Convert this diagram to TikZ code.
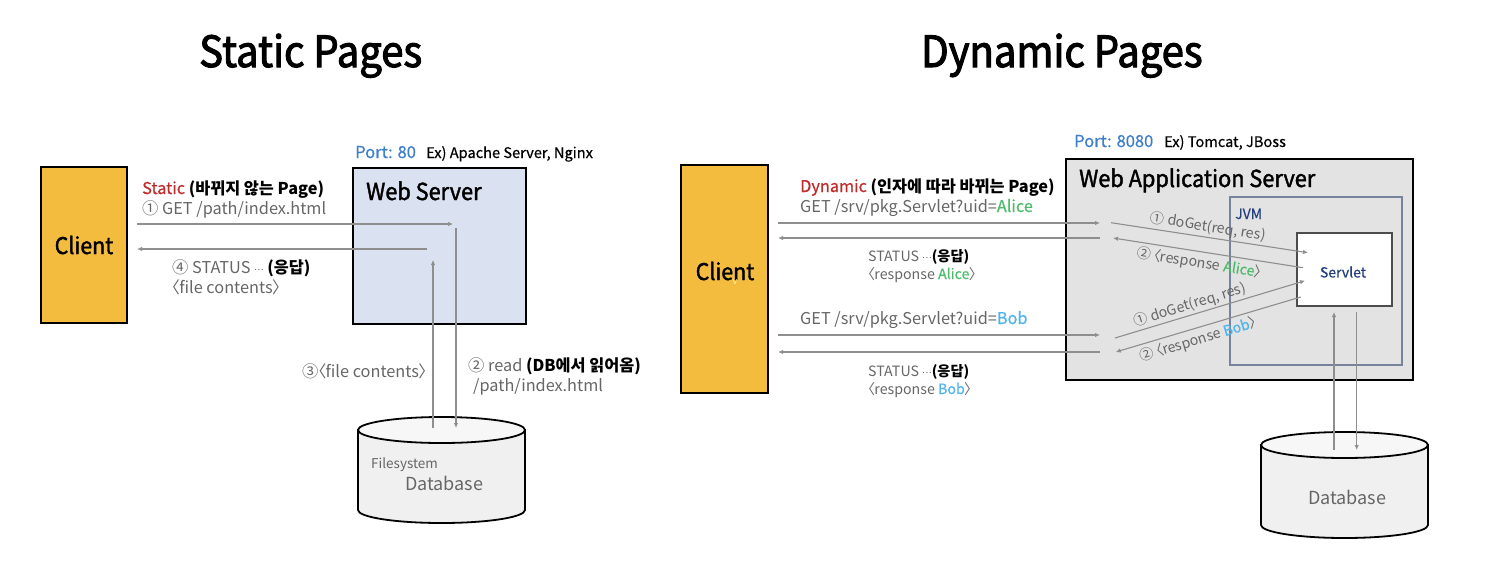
\documentclass[tikz,border=0pt]{standalone}
\usepackage{fontspec}
\usepackage{xcolor}
\setmainfont{Noto Sans CJK KR}
\newfontfamily\medfont[FakeBold=0.6]{Noto Sans CJK KR}
\newfontfamily\semifont[FakeBold=2.4,FakeStretch=0.93]{Noto Sans CJK KR}
\newfontfamily\headfont[FakeBold=1.6,FakeStretch=0.93]{Noto Sans CJK KR}
\usetikzlibrary{arrows.meta}
\newcommand{\fsz}[1]{\fontsize{#1}{#1}\selectfont}
\newcommand{\lang}{\kern-.52em〈\kern-.04em}
\newcommand{\rang}{\kern-.04em〉\kern-.5em}
\newcommand{\cdts}{\raisebox{.3ex}{\fsz{9}⋯}}
\definecolor{clientyellow}{HTML}{F4BC3F}
\definecolor{webblue}{HTML}{DAE1F0}
\definecolor{wasgray}{HTML}{E3E3E3}
\definecolor{txtgray}{HTML}{666666}
\definecolor{arrgray}{HTML}{8E8E8E}
\definecolor{portblue}{HTML}{3F7FC9}
\definecolor{jvmblue}{HTML}{25407F}
\definecolor{jvmline}{HTML}{76839A}
\definecolor{staticred}{HTML}{BE2B2B}
\definecolor{alicegreen}{HTML}{4DBB6A}
\definecolor{bobblue}{HTML}{4FB3EE}
\tikzset{
  box/.style={draw=black,line width=1.8pt,anchor=north west,inner sep=0pt,outer sep=0pt},
  title/.style={anchor=base west,inner sep=0pt,text=black,font=\fsz{43}\semifont},
  head/.style={anchor=base west,inner sep=0pt,text=black,font=\fsz{23.4}\headfont},
  lab/.style={anchor=base west,inner sep=0pt,text=txtgray,font=\fsz{16.3}},
  hint/.style={anchor=base west,inner sep=0pt,text=black,font=\fsz{14.6}\medfont},
  port/.style={anchor=base west,inner sep=0pt,text=portblue,font=\fsz{16.5}\medfont},
  conn/.style={draw=arrgray,line width=1.1pt,-{Latex[length=5pt,width=4.5pt]}},
  dbody/.style={draw=black,line width=1.8pt,fill=black!6},
  dcap/.style={draw=black,line width=1.8pt,fill=black!3},
}
\newcommand{\strongt}[1]{{\color{black}\bfseries #1}}
\newcommand{\dbcyl}[2]{%
  \begin{scope}[shift={(#1,#2)}]
  \draw[dbody] (-83.5,13) -- (-83.5,93) arc[start angle=180,end angle=360,x radius=83.5pt,y radius=13pt] -- (83.5,13) -- cycle;
  \draw[dcap] (0,13) ellipse[x radius=83.5pt,y radius=13pt];
  \end{scope}}
\begin{document}
\begin{tikzpicture}[x=1pt,y=-1pt]
\useasboundingbox (0,0) rectangle (1504,568);
\node[title] (stitle) at (199,67) {Static Pages};
\node[title] (dtitle) at (921,67) {Dynamic Pages};

\node[box,fill=clientyellow,minimum width=86pt,minimum height=156pt] (sclient) at (41,167) {};
\node[anchor=center,font=\fsz{23}\headfont] (sclientt) at (84,245) {Client};
\node[box,fill=webblue,minimum width=173pt,minimum height=156pt] (web) at (353,168) {};
\node[head] (webt) at (366,200) {Web Server};
\node[port] (sport) at (355,158) {Port: 80};
\node[hint] (shint) at (426,158) {Ex) Apache Server, Nginx};
\dbcyl{441.5}{417}
\node[lab,font=\fsz{13.5}] (sfs) at (371,468) {Filesystem};
\node[lab,font=\fsz{18}] (sdbt) at (405,490) {Database};

\node[lab] (s1) at (142,194) {{\color{staticred}\medfont Static} \strongt{(바뀌지 않는 Page)}};
\node[lab] (s2) at (142,214) {① GET /path/index.html};
\node[lab] (s3) at (172,273) {④ STATUS \cdts{} \strongt{(응답)}};
\node[lab] (s4) at (172,293) {\lang file contents\rang};
\node[lab] (s5) at (302,377) {③\lang file contents\rang};
\node[lab] (s6) at (468,371) {② read \strongt{(DB에서 읽어옴)}};
\node[lab] (s7) at (473,391) {/path/index.html};

\coordinate (sa) at (137,224);
\coordinate (sb) at (453,224);
\coordinate (sc) at (427,249);
\coordinate (sd) at (137,249);
\coordinate (se) at (456,228);
\coordinate (sf) at (456,428);
\coordinate (sg) at (433,428);
\coordinate (sh) at (433,260);
\draw[conn] (sa) -- (sb);
\draw[conn] (sc) -- (sd);
\draw[conn] (se) -- (sf);
\draw[conn] (sg) -- (sh);

\node[box,fill=clientyellow,minimum width=87pt,minimum height=228pt] (dclient) at (681,165) {};
\node[anchor=center,font=\fsz{23}\headfont] (dclientt) at (725,271) {Client};
\node[anchor=center,text=yellow!35,font=\fsz{9}] (dcv) at (735,282) {v};
\node[box,fill=wasgray,minimum width=347pt,minimum height=221pt] (was) at (1066,159) {};
\node[head] (wast) at (1079,187) {Web Application Server};
\node[port] (dport) at (1074,147) {Port: 8080};
\node[hint] (dhint) at (1164,147) {Ex) Tomcat, JBoss};
\node[box,draw=jvmline,line width=1.5pt,minimum width=172pt,minimum height=168pt] (jvm) at (1230,197) {};
\node[anchor=base west,inner sep=0pt,text=jvmblue,font=\fsz{14}\medfont] (jvmt) at (1235,219) {JVM};
\node[box,draw=black!70,fill=white,line width=1.2pt,minimum width=95pt,minimum height=73pt] (servlet) at (1297,233) {};
\node[anchor=center,text=jvmblue,font=\fsz{14}\medfont] (servlett) at (1343,272) {Servlet};
\dbcyl{1344.5}{432}
\node[lab,font=\fsz{18}] (ddbt) at (1308,504) {Database};

\node[lab] (d1) at (800,192) {{\color{staticred}\medfont Dynamic} \strongt{(인자에 따라 바뀌는 Page)}};
\node[lab] (d2) at (800,212) {GET /srv/pkg.Servlet?uid={\color{alicegreen}\medfont Alice}};
\node[lab,font=\fsz{14.2}] (d3) at (868,261) {STATUS \cdts{}\strongt{(응답)}};
\node[lab,font=\fsz{14.2}] (d4) at (868,279) {\lang response {\color{alicegreen}\medfont Alice}\rang};
\node[lab] (d5) at (800,324) {GET /srv/pkg.Servlet?uid={\color{bobblue}\medfont Bob}};
\node[lab,font=\fsz{14.2}] (d6) at (868,376) {STATUS \cdts{}\strongt{(응답)}};
\node[lab,font=\fsz{14.2}] (d7) at (868,394) {\lang response {\color{bobblue}\medfont Bob}\rang};

\node[lab,anchor=center,font=\fsz{14.2},rotate=-9] (r1) at (1208,227) {① doGet(req, res)};
\node[lab,anchor=center,font=\fsz{14.2},rotate=-9] (r2) at (1199,263) {② \lang response {\color{alicegreen}\medfont Alice}\rang};
\node[lab,anchor=center,font=\fsz{14.2},rotate=17] (r3) at (1190,305) {① doGet(req, res)};
\node[lab,anchor=center,font=\fsz{14.2},rotate=17] (r4) at (1198,340) {② \lang response {\color{bobblue}\medfont Bob}\rang};

\coordinate (da) at (778,223);
\coordinate (db) at (1100,223);
\coordinate (dc) at (1100,238);
\coordinate (dd) at (778,238);
\coordinate (de) at (778,335);
\coordinate (df) at (1100,335);
\coordinate (dg) at (1100,352);
\coordinate (dh) at (778,352);
\coordinate (di) at (1111,222.7);
\coordinate (dj) at (1308,252.7);
\coordinate (dk) at (1303,267.7);
\coordinate (dl) at (1113,238);
\coordinate (dm) at (1115,338);
\coordinate (dn) at (1305,280.7);
\coordinate (dp) at (1300.7,297);
\coordinate (dq) at (1115.7,352);
\coordinate (dr) at (1334,450);
\coordinate (ds) at (1334,312);
\coordinate (dt) at (1356.7,311.7);
\coordinate (du) at (1356.7,450);
\draw[conn] (da) -- (db);
\draw[conn] (dc) -- (dd);
\draw[conn] (de) -- (df);
\draw[conn] (dg) -- (dh);
\draw[conn] (di) -- (dj);
\draw[conn] (dk) -- (dl);
\draw[conn] (dm) -- (dn);
\draw[conn] (dp) -- (dq);
\draw[conn] (dr) -- (ds);
\draw[conn] (dt) -- (du);
\end{tikzpicture}
\end{document}
